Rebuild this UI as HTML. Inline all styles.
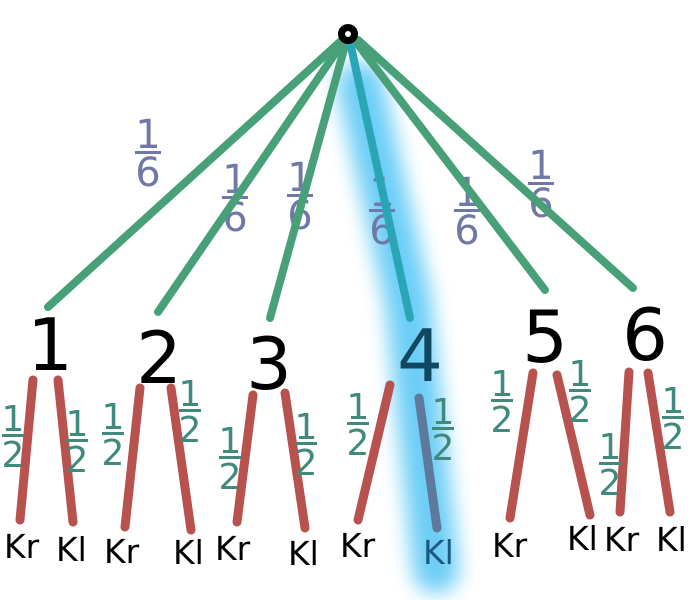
<!DOCTYPE html>
<html><head><meta charset="utf-8"><style>
html,body{margin:0;padding:0;background:#fff;}
svg{display:block;}
text{font-family:"DejaVu Sans","Liberation Sans",sans-serif;}
</style></head><body>
<svg width="700" height="600" viewBox="0 0 700 600" xmlns="http://www.w3.org/2000/svg">
<defs>
<filter id="b" x="-50%" y="-20%" width="200%" height="140%"><feGaussianBlur stdDeviation="10"/></filter>
</defs>
<rect width="700" height="600" fill="#fff"/>
<path d="M360 85 L408 300 L436 570" stroke="#5cc8f5" stroke-width="46" fill="none" stroke-linecap="round" filter="url(#b)" opacity="0.9"/>
<g fill="#6f78a6" style="font-size:40px" text-anchor="middle">
<text x="148" y="148">1</text><rect x="135" y="151" width="26" height="3"/><text x="148" y="186">6</text>
<text x="235" y="193">1</text><rect x="222" y="196" width="26" height="3"/><text x="235" y="231">6</text>
<text x="300" y="191">1</text><rect x="287" y="194" width="26" height="3"/><text x="300" y="229">6</text>
<text x="382" y="206">1</text><rect x="369" y="209" width="26" height="3"/><text x="382" y="244">6</text>
<text x="467" y="206">1</text><rect x="454" y="209" width="26" height="3"/><text x="467" y="244">6</text>
<text x="541" y="179">1</text><rect x="528" y="182" width="26" height="3"/><text x="541" y="217">6</text>
</g>
<g stroke="#48a078" stroke-width="8" stroke-linecap="round">
<line x1="342" y1="40" x2="48" y2="307"/>
<line x1="343" y1="42" x2="158" y2="312"/>
<line x1="346" y1="42" x2="270" y2="318"/>
<line x1="356" y1="42" x2="545" y2="290"/>
<line x1="358" y1="40" x2="633" y2="288"/>
<line x1="350" y1="42" x2="410" y2="318" stroke="#2aa5b8"/>
</g>
<circle cx="348" cy="34" r="10" fill="#000"/><circle cx="348" cy="34" r="3" fill="#fff"/>
<g style="font-size:72px" text-anchor="middle" fill="#000">
<text x="50" y="370">1</text>
<text x="159" y="383">2</text>
<text x="269" y="389">3</text>
<text x="420" y="381" fill="#0f4860">4</text>
<text x="545" y="362">5</text>
<text x="645" y="360">6</text>
</g>
<g stroke="#b8524e" stroke-width="9" stroke-linecap="round">
<line x1="33" y1="380" x2="20" y2="520"/><line x1="58" y1="380" x2="73" y2="522"/>
<line x1="140" y1="388" x2="125" y2="527"/><line x1="171" y1="388" x2="191" y2="530"/>
<line x1="253" y1="395" x2="237" y2="522"/><line x1="285" y1="393" x2="305" y2="528"/>
<line x1="390" y1="385" x2="358" y2="520"/><line x1="419" y1="398" x2="437" y2="528" stroke="#5d7a9c"/>
<line x1="533" y1="373" x2="510" y2="518"/><line x1="557" y1="375" x2="590" y2="515"/>
<line x1="629" y1="372" x2="620" y2="512"/><line x1="648" y1="373" x2="670" y2="512"/>
</g>
<g fill="#3f8a7c" style="font-size:36px" text-anchor="middle">
<text x="13" y="431">1</text><rect x="2" y="434" width="22" height="3"/><text x="13" y="467">2</text>
<text x="77" y="436">1</text><rect x="66" y="439" width="22" height="3"/><text x="77" y="472">2</text>
<text x="113" y="429">1</text><rect x="102" y="432" width="22" height="3"/><text x="113" y="465">2</text>
<text x="190" y="406">1</text><rect x="179" y="409" width="22" height="3"/><text x="190" y="442">2</text>
<text x="230" y="453">1</text><rect x="219" y="456" width="22" height="3"/><text x="230" y="489">2</text>
<text x="306" y="439">1</text><rect x="295" y="442" width="22" height="3"/><text x="306" y="475">2</text>
<text x="358" y="419">1</text><rect x="347" y="422" width="22" height="3"/><text x="358" y="455">2</text>
<text x="443" y="424">1</text><rect x="432" y="427" width="22" height="3"/><text x="443" y="460">2</text>
<text x="502" y="396">1</text><rect x="491" y="399" width="22" height="3"/><text x="502" y="432">2</text>
<text x="580" y="386">1</text><rect x="569" y="389" width="22" height="3"/><text x="580" y="422">2</text>
<text x="610" y="459">1</text><rect x="599" y="462" width="22" height="3"/><text x="610" y="495">2</text>
<text x="673" y="413">1</text><rect x="662" y="416" width="22" height="3"/><text x="673" y="449">2</text>
</g>
<g style="font-size:33px" fill="#000">
<text x="4" y="558">Kr</text><text x="56" y="561">Kl</text>
<text x="104" y="563">Kr</text><text x="173" y="564">Kl</text>
<text x="215" y="560">Kr</text><text x="288" y="565">Kl</text>
<text x="340" y="557">Kr</text><text x="423" y="564" fill="#1a5a80">Kl</text>
<text x="492" y="557">Kr</text><text x="567" y="550">Kl</text>
<text x="604" y="551">Kr</text><text x="656" y="551">Kl</text>
</g>
</svg>
</body></html>
